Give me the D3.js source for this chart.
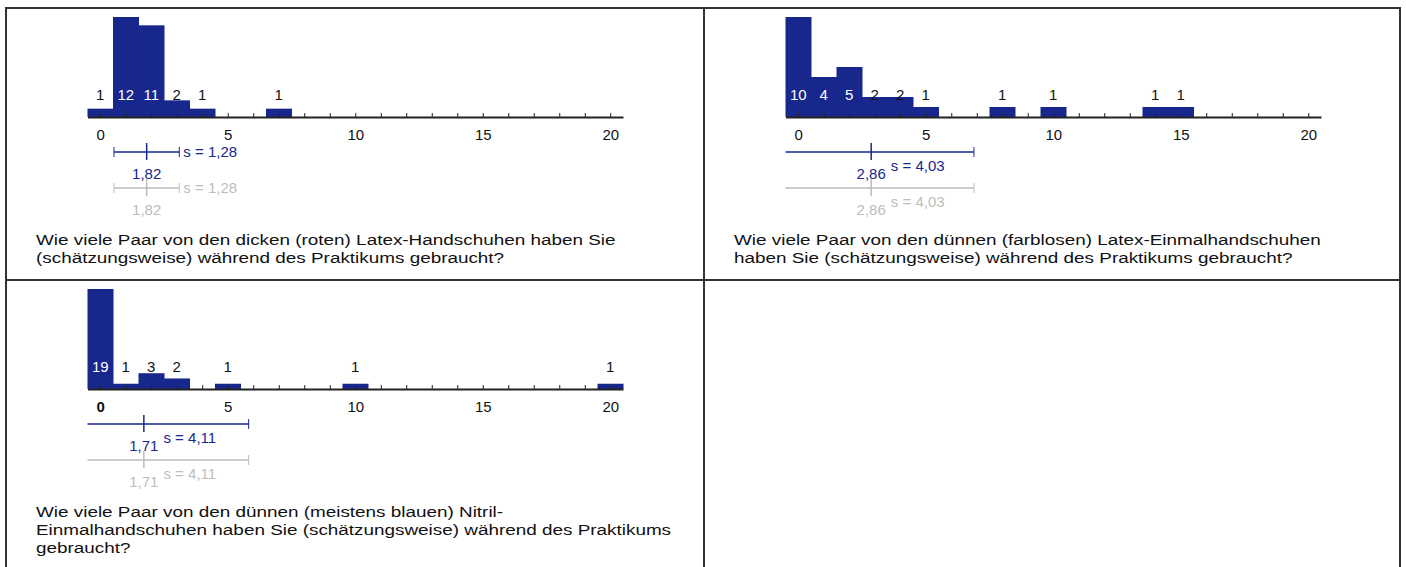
<!DOCTYPE html>
<html>
<head>
<meta charset="utf-8">
<script src="https://cdn.jsdelivr.net/npm/d3@7"></script>
<style>
  body { margin: 0; background: #fff; }
  text { font-family: Arial, "Liberation Sans", sans-serif; }
</style>
</head>
<body>
<svg id="chart"></svg>
<script>
// chart size
const svgWidth = 1406;
const svgHeight = 567;

// answer values and how many people gave them
const values1 = [0, 1, 2, 3, 4, 7];
const counts1 = [1, 12, 11, 2, 1, 1];
const values2 = [0, 1, 2, 3, 4, 5, 8, 10, 14, 15];
const counts2 = [10, 4, 5, 2, 2, 1, 1, 1, 1, 1];
const values3 = [0, 1, 2, 3, 5, 10, 20];
const counts3 = [19, 1, 3, 2, 1, 1, 1];

// mean and standard deviation per question
const means = [1.82, 2.86, 1.71];
const sds = [1.28, 4.03, 4.11];

const tickLabels = [0, 5, 10, 15, 20];
const boldTicks = [null, null, 0];

const questions = [
  ["Wie viele Paar von den dicken (roten) Latex-Handschuhen haben Sie",
   "(schätzungsweise) während des Praktikums gebraucht?"],
  ["Wie viele Paar von den dünnen (farblosen) Latex-Einmalhandschuhen",
   "haben Sie (schätzungsweise) während des Praktikums gebraucht?"],
  ["Wie viele Paar von den dünnen (meistens blauen) Nitril-",
   "Einmalhandschuhen haben Sie (schätzungsweise) während des Praktikums",
   "gebraucht?"]
];

const blue = "#18278c";
const grey = "#bdbdbd";
const numSize = 15;
const fmt = v => d3.format(".2f")(v).replace(".", ",");

const svg = d3.select("#chart")
  .attr("width", svgWidth)
  .attr("height", svgHeight);

// table frame
const frame = svg.append("g")
  .attr("fill", "none")
  .attr("stroke", "#333")
  .attr("stroke-width", 2);
frame.append("rect").attr("x", 6).attr("y", 8).attr("width", 1394).attr("height", 620);
frame.append("line").attr("x1", 6).attr("x2", 1400).attr("y1", 280).attr("y2", 280);
frame.append("line").attr("x1", 704).attr("x2", 704).attr("y1", 8).attr("y2", 620);

const cells = [{x: 6, y: 8}, {x: 704, y: 8}, {x: 6, y: 280}];
const allValues = [values1, values2, values3];
const allCounts = [counts1, counts2, counts3];

cells.forEach((cell, i) => {
  const g = svg.append("g");
  const values = allValues[i];
  const counts = allCounts[i];
  const axisY = cell.y + 109;

  const x = d3.scaleLinear()
    .domain([-0.5, 20.5])
    .range([cell.x + 81.5, cell.x + 617]);
  const y = d3.scaleLinear()
    .domain([0, d3.max(counts)])
    .range([axisY, axisY - 100]);

  const bins = values.map((v, k) => ({v: v, c: counts[k]}));

  // histogram bars
  g.selectAll("rect.bar")
    .data(bins)
    .enter()
    .append("rect")
    .attr("class", "bar")
    .attr("x", d => x(d.v - 0.5))
    .attr("width", d => x(d.v + 0.5) - x(d.v - 0.5) + 0.5)
    .attr("y", d => y(d.c))
    .attr("height", d => axisY - y(d.c))
    .attr("fill", blue);

  // axis with a tick on every integer
  const axis = g.append("g")
    .attr("transform", `translate(0, ${axisY})`)
    .call(d3.axisBottom(x)
      .tickValues(d3.range(0, 21))
      .tickSizeInner(-4)
      .tickSizeOuter(0)
      .tickPadding(12)
      .tickFormat(d => tickLabels.includes(d) ? d : ""));
  axis.select(".domain").attr("stroke", "#222").attr("stroke-width", 2);
  axis.selectAll(".tick line").attr("stroke", "#222");
  axis.selectAll(".tick text")
    .attr("font-size", numSize)
    .attr("fill", "#111")
    .attr("font-weight", d => d === boldTicks[i] ? "bold" : null);

  // counts above the baseline
  g.selectAll("text.count")
    .data(bins)
    .enter()
    .append("text")
    .attr("class", "count")
    .attr("x", d => x(d.v))
    .attr("y", axisY - 17)
    .attr("text-anchor", "middle")
    .attr("font-size", numSize)
    .attr("fill", d => y(d.c) < axisY - 30 ? "#fff" : "#111")
    .text(d => d.c);

  // mean +/- sd, once in blue and once in grey
  [blue, grey].forEach((col, k) => {
    const sy = axisY + 35 + k * 36;
    const m = means[i], s = sds[i];
    const lo = Math.max(m - s, -0.5);
    const hi = Math.min(m + s, 20.5);
    const sg = g.append("g").attr("stroke", col).attr("fill", col);

    sg.append("line")
      .attr("x1", x(lo)).attr("x2", x(hi))
      .attr("y1", sy).attr("y2", sy)
      .attr("stroke-width", 1.5);
    if (lo === m - s) {
      sg.append("line").attr("x1", x(lo)).attr("x2", x(lo)).attr("y1", sy - 5).attr("y2", sy + 5);
    }
    if (hi === m + s) {
      sg.append("line").attr("x1", x(hi)).attr("x2", x(hi)).attr("y1", sy - 5).attr("y2", sy + 5);
    }
    sg.append("line")
      .attr("x1", x(m)).attr("x2", x(m))
      .attr("y1", sy - 9).attr("y2", sy + 8)
      .attr("stroke-width", 1.5);

    const meanText = sg.append("text")
      .attr("stroke", "none")
      .attr("x", x(m))
      .attr("y", sy + 27)
      .attr("text-anchor", "middle")
      .attr("font-size", numSize)
      .text(fmt(m));

    const sText = sg.append("text")
      .attr("stroke", "none")
      .attr("font-size", numSize)
      .text("s = " + fmt(s));
    if (lo === m - s) {
      sText.attr("x", x(hi) + 4).attr("y", sy + 5);
    } else {
      const w = meanText.node().getComputedTextLength();
      sText.attr("x", x(m) + w / 2 + 5).attr("y", sy + 19);
    }
  });

  // question text, a bit wider than plain Arial as in the original
  g.append("text")
    .attr("transform", `translate(${cell.x + 30}, ${cell.y + 237}) scale(1.26, 1)`)
    .attr("font-size", 15)
    .attr("fill", "#111")
    .selectAll("tspan")
    .data(questions[i])
    .enter()
    .append("tspan")
    .attr("x", 0)
    .attr("dy", (d, k) => k === 0 ? 0 : 18)
    .text(d => d);
});
</script>
</body>
</html>
